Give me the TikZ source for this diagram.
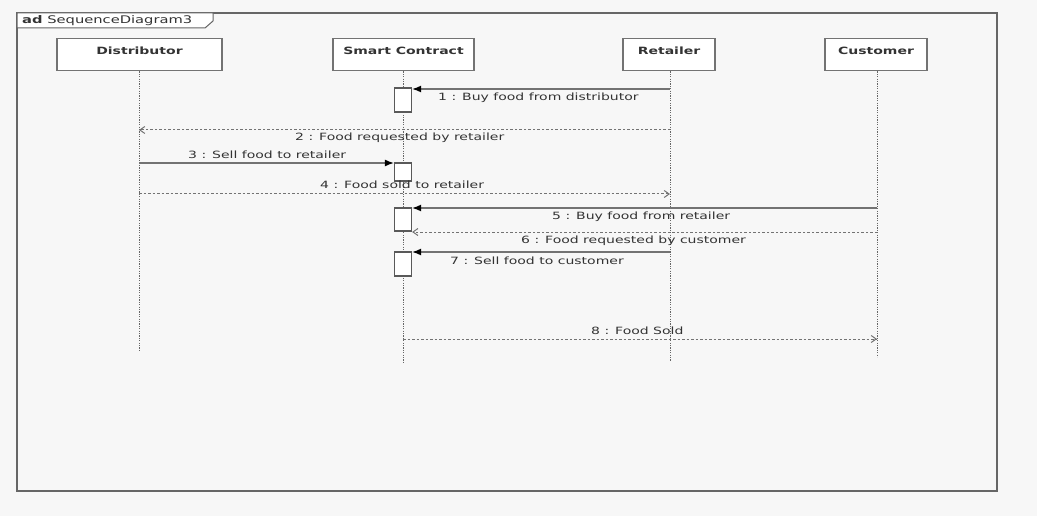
\documentclass[tikz,border=0pt]{standalone}
\usepackage{fontspec}
\setmainfont{DejaVu Sans}[FakeStretch=1.4]
\usetikzlibrary{arrows.meta}
\begin{document}
\begin{tikzpicture}[x=1pt,y=-1pt,
  frame/.style={draw=black!60, line width=1.3pt},
  head/.style={draw=black!55, line width=1.4pt, fill=white, inner xsep=0pt, inner ysep=0pt,
    text height=16pt, text depth=16pt, anchor=north, text=black!80,
    font=\bfseries\fontsize{10}{12}\selectfont},
  life/.style={draw=black!60, line width=1pt, dash pattern=on 1.2pt off 1.2pt},
  act/.style={draw=black!65, line width=1.2pt, fill=white, minimum width=17pt, inner sep=0pt},
  msg/.style={draw=black!55, line width=1.4pt, arrows={-{Latex[length=9pt,width=7pt,color=black]}}},
  ret/.style={draw=black!55, line width=1pt, dash pattern=on 2.5pt off 2pt, -{Straight Barb[length=5pt,width=7pt]}},
  lbl/.style={inner sep=0pt, anchor=west, text=black!80, font=\fontsize{10}{12}\selectfont},
]
\useasboundingbox (0,0) rectangle (1037,516);
\fill[black!3] (0,0) rectangle (1037,516);

% diagram frame and title tab
\draw[frame] (17,13) rectangle (997,491);
\draw[frame, fill=white, line width=1pt] (17,13) -- (213,13) -- (213,21) -- (205,28) -- (17,28) -- cycle;
\node[inner sep=0pt, anchor=west, text=black!80, font=\fontsize{10.5}{12}\selectfont] (title) at (22,20.5) {\textbf{ad} SequenceDiagram3};

% lifeline heads
\node[head, minimum width=165pt] (dist) at (139.5,38) {Distributor};
\node[head, minimum width=141pt] (sc)   at (403.5,38) {Smart Contract};
\node[head, minimum width=92pt]  (rtl)  at (669,38)   {Retailer};
\node[head, minimum width=102pt] (cust) at (876,38)   {Customer};

% lifeline ends
\coordinate (distE) at (139,352);
\coordinate (scE)   at (403,362);
\coordinate (rtlE)  at (670,361);
\coordinate (custE) at (877,357);

\draw[life] (dist.south -| distE) -- (distE);
\draw[life] (sc.south -| scE) -- (scE);
\draw[life] (rtl.south -| rtlE) -- (rtlE);
\draw[life] (cust.south -| custE) -- (custE);

% activations on the contract lifeline
\node[act, minimum height=24pt] (act1) at (403,100) {};
\node[act, minimum height=18pt] (act2) at (403,172) {};
\node[act, minimum height=23pt] (act3) at (403,219.5) {};
\node[act, minimum height=24pt] (act4) at (403,264) {};

% message end points on lifelines
\coordinate (m1) at (670,89);
\coordinate (m2a) at (670,130);  \coordinate (m2b) at (139,130);
\coordinate (m3) at (139,163);
\coordinate (m4a) at (139,194);  \coordinate (m4b) at (670,194);
\coordinate (m5) at (877,208);
\coordinate (m6a) at (877,232);
\coordinate (m7) at (670,252);
\coordinate (m8a) at (403,339);  \coordinate (m8b) at (877,339);

\draw[msg] (m1) -- (m1 -| act1.east);
\draw[ret] (m2a) -- (m2b);
\draw[msg] (m3) -- (m3 -| act2.west);
\draw[ret] (m4a) -- (m4b);
\draw[msg] (m5) -- (m5 -| act3.east);
\draw[ret] (m6a) -- (m6a -| act3.east);
\draw[msg] (m7) -- (m7 -| act4.east);
\draw[ret] (m8a) -- (m8b);

% message labels
\node[lbl] (l1) at (438,98)  {1 : Buy food from distributor};
\node[lbl] (l2) at (295,138) {2 : Food requested by retailer};
\node[lbl] (l3) at (188,155) {3 : Sell food to retailer};
\node[lbl] (l4) at (320,185) {4 : Food sold to retailer};
\node[lbl] (l5) at (552,217) {5 : Buy food from retailer};
\node[lbl] (l6) at (521,241) {6 : Food requested by customer};
\node[lbl] (l7) at (450,261) {7 : Sell food to customer};
\node[lbl] (l8) at (591,331) {8 : Food Sold};
\end{tikzpicture}
\end{document}
